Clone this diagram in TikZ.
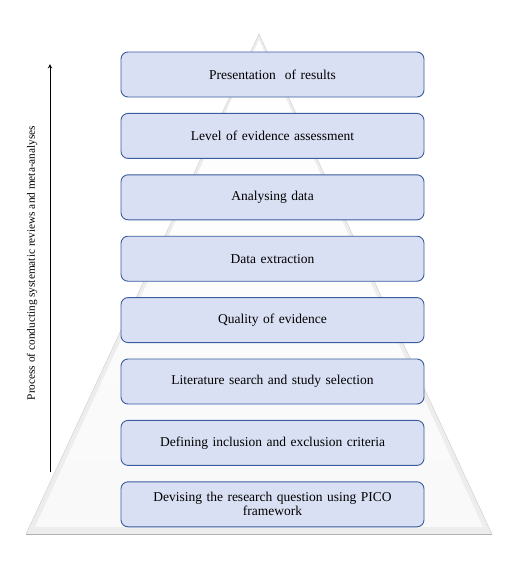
\documentclass[tikz,border=0pt]{standalone}
\usepackage{fontspec}
\setmainfont{Liberation Serif}
\usepackage{tikz}
\definecolor{boxfill}{HTML}{DAE0F3}
\definecolor{boxline}{HTML}{3B5C9E}
\tikzset{
  stepbox/.style={draw=boxline, line width=0.9pt, fill=boxfill, rounded corners=7pt,
    minimum width=303pt, minimum height=45pt, text width=290pt, align=center,
    font=\fontsize{13.5}{14}\selectfont, inner sep=0pt},
}

\begin{document}
\begin{tikzpicture}[x=1pt,y=-1pt]
\useasboundingbox (0,0) rectangle (521,565);

%pyramide
\coordinate (apex) at (259,34);
\coordinate (bl) at (26,534);
\coordinate (br) at (492,534);
\fill[gray!14] (apex) -- (bl) -- (br) -- cycle;
\shade[top color=white, bottom color=gray!5] (259,40) -- (35,527) -- (483,527) -- cycle;
\draw[gray!40, line width=0.4pt] (apex) -- (bl) (apex) -- (br);
\draw[gray!60, line width=0.8pt] (bl) -- (br);

%etapes
\foreach \lab [count=\i] in {Presentation\ \ of results,
  Level of evidence assessment,
  Analysing data,
  Data extraction,
  Quality of evidence,
  Literature search and study selection,
  Defining inclusion and exclusion criteria,
  {Devising the research question using PICO\\framework}}
  \node[stepbox] (s\i) at (272.5,{74.5+61.4*(\i-1)}) {\lab};

%fleche
\coordinate (fbas) at (50,472);
\coordinate (fhaut) at (50,64);
\draw[->,>=stealth, line width=1pt] (fbas) -- (fhaut);
\node[rotate=90, font=\fontsize{11.3}{12}\selectfont] (proc) at (32,263)
  {Process of conducting systematic reviews and meta-analyses};

\end{tikzpicture}
\end{document}
